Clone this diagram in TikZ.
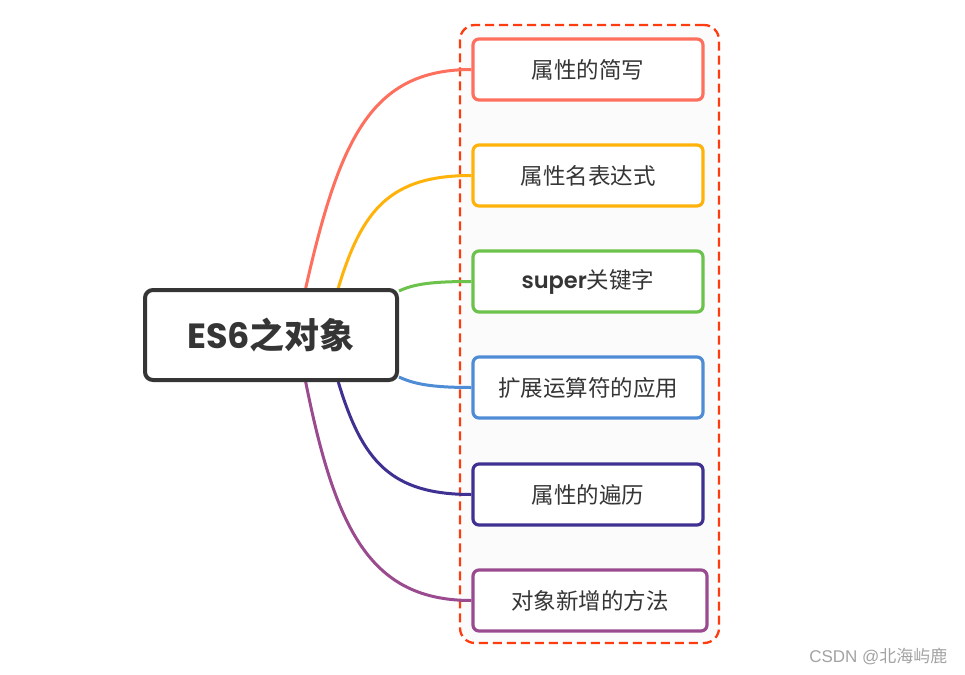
\documentclass[tikz,border=0pt]{standalone}
\usepackage{fontspec}
\setmainfont{Noto Sans CJK SC}
\newfontfamily\lat{Poppins}
\newfontfamily\latsb{Poppins SemiBold}
\newfontfamily\wmfont{Liberation Sans}
\definecolor{cred}{HTML}{FE6F5E}
\definecolor{cyel}{HTML}{FFB30A}
\definecolor{cgrn}{HTML}{6CC24A}
\definecolor{cblu}{HTML}{4F8CD6}
\definecolor{cdpu}{HTML}{3E3192}
\definecolor{cpur}{HTML}{9A4A8E}
\definecolor{cdash}{HTML}{FF3C10}
\definecolor{ctext}{HTML}{353535}
\definecolor{cwm}{HTML}{A3A3A3}
\definecolor{cpanel}{HTML}{FBFBFB}
\pgfdeclarelayer{back}
\pgfdeclarelayer{links}
\pgfsetlayers{back,links,main}
\tikzset{
  leaf/.style={draw=#1, line width=3.2pt, rounded corners=6pt, fill=white,
    minimum width=230pt, minimum height=61pt, inner sep=0pt,
    text=ctext, font=\fontsize{22.5}{27}\selectfont},
  rootbox/.style={draw=ctext, line width=4pt, rounded corners=8pt, fill=white,
    minimum width=252pt, minimum height=90pt, inner sep=0pt,
    text=ctext, font=\fontsize{35}{40}\selectfont\bfseries},
  conn/.style={line width=3pt, draw=#1},
  panel/.style={draw=cdash, fill=cpanel, line width=2.3pt, dash pattern=on 9pt off 5pt, rounded corners=15pt}
}
\begin{document}
\begin{tikzpicture}[x=1pt, y=-1pt]
\useasboundingbox (0,0) rectangle (965,674);
\begin{pgfonlayer}{back}
\fill[white] (0,0) rectangle (965,674);
\node[panel, minimum width=259pt, minimum height=618pt] (panel) at (589.5,334) {};
\end{pgfonlayer}
\node[rootbox] (c) at (271,335) {{\lat ES6}之对象};
\node[leaf=cred] (c1) at (588,69.5) {属性的简写};
\node[leaf=cyel] (c2) at (588,175.5) {属性名表达式};
\node[leaf=cgrn] (c3) at (588,281.5) {{\latsb super}关键字};
\node[leaf=cblu] (c4) at (588,387.5) {扩展运算符的应用};
\node[leaf=cdpu] (c5) at (588,494.5) {属性的遍历};
\node[leaf=cpur, minimum width=234pt] (c6) at (590,600.5) {对象新增的方法};
\coordinate (s1) at ([xshift=34.7pt]c.north);
\coordinate (s2) at ([xshift=67.3pt]c.north);
\coordinate (s3) at ([yshift=-3pt]c.north east);
\coordinate (s4) at ([yshift=5pt]c.south east);
\coordinate (s5) at ([xshift=67.3pt]c.south);
\coordinate (s6) at ([xshift=34.7pt]c.south);
\begin{pgfonlayer}{links}
\draw[conn=cred] (s1) .. controls +(34,-150) and +(-100,0) .. (c1.west);
\draw[conn=cyel] (s2) .. controls +(24,-80) and +(-80,0) .. (c2.west);
\draw[conn=cgrn] (s3) .. controls +(15,-7) and +(-40,0) .. (c3.west);
\draw[conn=cblu] (s4) .. controls +(15,7) and +(-40,0) .. (c4.west);
\draw[conn=cdpu] (s5) .. controls +(24,80) and +(-80,0) .. (c5.west);
\draw[conn=cpur] (s6) .. controls +(30,150) and +(-100,0) .. (c6.west);
\end{pgfonlayer}
\node[text=cwm, font=\fontsize{17}{20}\selectfont, anchor=east] (wm) at (951,656) {{\wmfont CSDN @}北海屿鹿};
\end{tikzpicture}
\end{document}
